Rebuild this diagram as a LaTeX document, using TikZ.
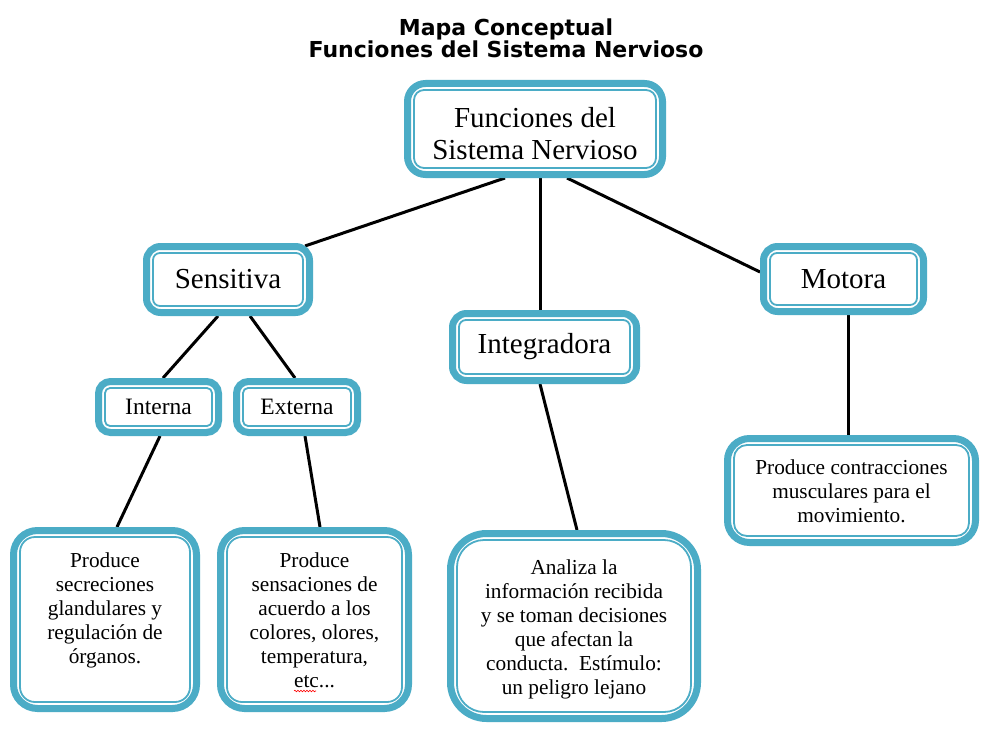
\documentclass[tikz,border=0pt]{standalone}
\usepackage{fontspec}
\setmainfont{Liberation Serif}
\newfontfamily\titlefont{DejaVu Sans}
\usetikzlibrary{calc,backgrounds,decorations.pathmorphing}
\definecolor{aqua}{HTML}{4BACC6}
\tikzset{
  cbox/.style={draw=aqua, line width=7pt, fill=white, inner sep=0pt, outer sep=3.5pt,
    align=center, rounded corners=#1},
  cbox/.default=14pt,
  inline/.style={draw=aqua, line width=1.8pt},
  conn/.style={draw=black, line width=3pt},
  bigtxt/.style={font=\fontsize{29}{32}\selectfont},
  midtxt/.style={font=\fontsize{23.5}{26}\selectfont},
  smalltxt/.style={font=\fontsize{21.3}{24}\selectfont, align=center, inner sep=0pt},
  ttl/.style={font=\titlefont\bfseries\fontsize{22}{22}\selectfont, align=center, inner sep=0pt}
}
\begin{document}
\begin{tikzpicture}[x=1pt,y=-1pt]
\useasboundingbox (0,0) rectangle (990,733);
\node[ttl] (title) at (506,38) {Mapa Conceptual\\Funciones del Sistema Nervioso};

\node[cbox=18pt, minimum width=255pt, minimum height=91pt] (root) at (535,129) {};
\node[cbox, minimum width=163pt, minimum height=66pt, bigtxt] (sens) at (228,279.5) {Sensitiva};
\node[cbox, minimum width=184pt, minimum height=67pt, bigtxt] (integ) at (544.5,347) {Integradora};
\node[cbox, minimum width=160pt, minimum height=65pt, bigtxt] (mot) at (843.5,279) {Motora};
\node[cbox=12pt, minimum width=120pt, minimum height=51pt, midtxt] (int) at (158.5,407) {Interna};
\node[cbox=12pt, minimum width=121pt, minimum height=51pt, midtxt] (ext) at (297,407) {Externa};
\node[cbox=24pt, minimum width=183pt, minimum height=178pt] (b1) at (105,619.5) {};
\node[cbox=24pt, minimum width=188pt, minimum height=178pt] (b2) at (314.5,619.5) {};
\node[cbox=36pt, minimum width=247pt, minimum height=185pt] (b3) at (574,626) {};
\node[cbox=22pt, minimum width=248pt, minimum height=104pt] (b4) at (851.5,490.5) {};

\foreach \n/\r in {root/10pt, sens/7pt, integ/7pt, mot/7pt, int/5pt, ext/5pt, b1/15pt, b2/15pt, b3/27pt, b4/13pt}
  \draw[inline, rounded corners=\r] ([shift={(10pt,-10pt)}]\n.north west) rectangle ([shift={(-10pt,10pt)}]\n.south east);

\node[bigtxt, align=center, inner sep=0pt] (rt) at (535,134) {Funciones del\\Sistema Nervioso};
\node[smalltxt] (t1) at (105,610) {Produce\\secreciones\\glandulares y\\regulación de\\órganos.};
\node[smalltxt] (t2) at (314.5,620) {Produce\\sensaciones de\\acuerdo a los\\colores, olores,\\temperatura,\\etc...};
\node[smalltxt] (t3) at (574,629) {Analiza la\\información recibida\\y se toman decisiones\\que afectan la\\conducta.\ \ Estímulo:\\un peligro lejano};
\node[smalltxt] (t4) at (851.5,491) {Produce contracciones\\musculares para el\\movimiento.};

\draw[red, line width=0.6pt, decorate, decoration={snake, amplitude=0.8pt, segment length=3pt}] (294,691) -- (316,691);

\begin{pgfonlayer}{background}
\fill[white] (0,0) rectangle (990,733);
\draw[conn] ([xshift=-30pt]root.south) -- ([shift={(-8pt,-3pt)}]sens.north east);
\draw[conn] ([xshift=5pt]root.south) -- ([xshift=-4.5pt]integ.north);
\draw[conn] ([xshift=32pt]root.south) -- ([yshift=7pt]mot.west);
\draw[conn] ([xshift=-10pt]sens.south) -- ([xshift=4.5pt]int.north);
\draw[conn] ([xshift=22pt]sens.south) -- ([xshift=-2pt]ext.north);
\draw[conn] ([xshift=1.5pt]int.south) -- ([xshift=12pt]b1.north);
\draw[conn] ([xshift=8pt]ext.south) -- ([xshift=5.5pt]b2.north);
\draw[conn] ([xshift=-4.5pt]integ.south) -- ([xshift=3pt]b3.north);
\draw[conn] ([xshift=4.5pt]mot.south) -- ([xshift=-3.5pt]b4.north);
\end{pgfonlayer}
\end{tikzpicture}
\end{document}
